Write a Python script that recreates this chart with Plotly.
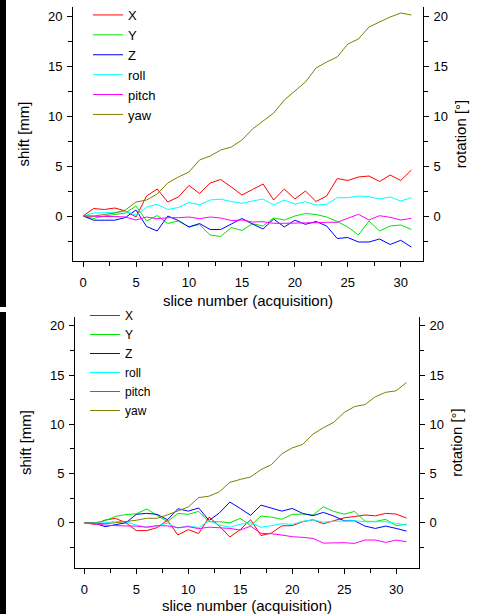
import plotly.graph_objects as go

slices = list(range(32))
tick_vals = [0, 5, 10, 15, 20, 25, 30]
series_names = ["X", "Y", "Z", "roll", "pitch", "yaw"]

top_X = [0, 0.75, 0.65, 0.8, 0.5, -0.1, 2.0, 2.7, 1.4, 1.9, 3.05, 2.25, 3.3, 3.65, 2.9, 2.1,
         2.65, 3.2, 1.6, 2.7, 1.7, 2.5, 1.45, 2.0, 3.75, 3.55, 3.9, 4.0, 3.45, 4.1, 3.55, 4.6]
top_Y = [0, -0.25, 0.0, 0.15, 0.3, 1.0, -0.5, 0.05, -0.75, -0.5, -1.1, -0.85, -1.9, -2.05, -1.15, -1.45,
         -0.77, -1.0, -0.2, -0.4, 0.0, 0.25, 0.15, -0.1, -0.55, -1.1, -1.9, -0.5, -1.5, -1.0, -0.9, -1.35]
top_Z = [0, -0.42, -0.42, -0.42, -0.15, 0.6, -1.05, -1.5, 0.0, -0.45, -1.1, -0.75, -1.35, -1.35, -0.8, -0.25,
         -0.8, -1.3, -0.3, -1.1, -0.42, -0.83, -0.55, -1.0, -2.25, -2.15, -2.6, -2.6, -2.3, -2.85, -2.43, -3.1]
top_roll = [0, 0.3, 0.33, 0.35, 0.47, 0.08, 0.88, 1.17, 0.65, 0.85, 1.35, 1.12, 1.6, 1.68, 1.45, 1.27,
            1.5, 1.7, 1.1, 1.6, 1.2, 1.43, 1.1, 1.17, 1.83, 1.83, 2.0, 1.93, 1.7, 1.9, 1.5, 1.83]
top_pitch = [0, -0.05, -0.05, -0.05, -0.1, -0.4, -0.1, -0.27, -0.17, -0.17, -0.1, -0.27, -0.1, -0.2, -0.45, -0.4,
             -0.6, -0.57, -0.73, -0.73, -0.73, -0.73, -0.67, -0.63, -0.63, -0.23, 0.17, -0.4, 0.03, -0.13, -0.4, -0.23]
top_yaw = [0, 0, 0.15, 0.3, 0.6, 1.4, 1.6, 2.2, 3.3, 3.9, 4.4, 5.6, 6.0, 6.6, 6.9, 7.6,
           8.7, 9.5, 10.3, 11.6, 12.5, 13.4, 14.8, 15.4, 15.9, 17.2, 17.7, 18.9, 19.4, 19.9, 20.3, 20.1]

bot_X = [0, -0.17, 0.27, 0.44, 0.0, -0.8, -0.8, -0.5, 0.25, -1.25, -0.7, -1.1, 0.57, -0.35, -1.45, -0.7,
         0.3, -1.3, -1.05, -0.32, -0.3, 0.1, 0.3, -0.1, 0.2, 0.5, 0.63, 0.78, 0.7, 0.95, 0.88, 0.47]
bot_Y = [0, 0, 0.2, 0.65, 0.83, 0.9, 1.39, 0.78, 0.1, 0.95, 0.85, 1.15, 0.1, 0.1, 0.0, 0.44,
         -0.3, 0.68, 0.57, 0.35, 0.85, 0.88, 0.78, 1.62, 1.15, 0.87, 1.15, 0.15, 0.13, 0.34, -0.3, -0.15]
bot_Z = [0, -0.05, -0.4, -0.2, 0.0, 0.85, 0.95, 0.85, 0.3, 1.42, 1.18, 1.5, 0.23, 1.0, 2.1, 1.45,
         0.75, 1.79, 1.52, 1.18, 1.45, 0.95, 0.71, 1.05, 0.68, 0.2, 0.2, -0.34, -0.58, -0.34, -0.58, -0.85]
bot_roll = [0, -0.05, 0.0, 0.12, 0.1, -0.24, -0.48, -0.32, -0.05, -0.55, -0.32, -0.5, 0.2, -0.24, -0.45, -0.15,
            0.0, -0.47, -0.3, -0.1, -0.17, 0.13, 0.3, 0.05, 0.15, 0.18, 0.2, 0.1, 0.1, 0.1, -0.07, -0.24]
bot_pitch = [0, -0.13, -0.24, -0.3, -0.3, -0.35, -0.45, -0.3, -0.32, -0.5, -0.4, -0.6, -0.45, -0.5, -0.58, -0.75,
             -0.35, -1.08, -1.12, -1.25, -1.42, -1.49, -1.59, -2.07, -2.03, -2.03, -2.1, -1.76, -1.76, -2.0, -1.76, -1.93]
bot_yaw = [0, -0.05, -0.1, 0.0, 0.1, 0.25, 0.45, 0.45, 0.8, 1.2, 1.6, 2.55, 2.7, 3.15, 4.1, 4.4,
           4.65, 5.4, 5.9, 7.0, 7.6, 7.95, 9.0, 9.65, 10.2, 11.2, 11.8, 12.0, 12.8, 13.25, 13.4, 14.25]

colors = ["#FF0000", "#00E600", "#0000FF", "#00FFFF", "#FF00FF", "#808000"]
FONT = "Liberation Sans, Arial, sans-serif"

W, H = 481, 614
fig = go.Figure()

top_series = [top_X, top_Y, top_Z, top_roll, top_pitch, top_yaw]
bot_series = [bot_X, bot_Y, bot_Z, bot_roll, bot_pitch, bot_yaw]

for k, (name, vals) in enumerate(zip(series_names, top_series)):
    fig.add_trace(go.Scatter(x=slices, y=vals, name=name, mode="lines",
                             line=dict(color=colors[k], width=1),
                             xaxis="x", yaxis="y" if k < 3 else "y2", legend="legend"))
for k, (name, vals) in enumerate(zip(series_names, bot_series)):
    fig.add_trace(go.Scatter(x=slices, y=vals, name=name, mode="lines",
                             line=dict(color=colors[k], width=1),
                             xaxis="x2", yaxis="y3" if k < 3 else "y4", legend="legend2"))

def px_x(p):
    return p / W

def px_y(p):
    return 1 - p / H

minor_ticks = dict(ticks="outside", ticklen=4, tickcolor="black", dtick=2.5, tick0=0, showgrid=False)
axis_common = dict(showgrid=False, zeroline=False, showline=True, linecolor="black", linewidth=1,
                   ticks="outside", ticklen=5, tickcolor="black", tickwidth=1, automargin=False,
                   tickfont=dict(family=FONT, size=13, color="black"), minor=minor_ticks)

xcommon = dict(axis_common, tickvals=tick_vals, ticklabelstandoff=4)
ycommon = dict(axis_common, tickvals=[0, 5, 10, 15, 20], ticklabelstandoff=2)

title_font = dict(family=FONT, size=15, color="black")

fig.update_layout(
    template="none",
    width=W, height=H, paper_bgcolor="white", plot_bgcolor="white",
    margin=dict(l=0, r=0, t=0, b=0, pad=0),
    showlegend=True,
    xaxis=dict(xcommon, domain=[px_x(73), px_x(423)], range=[-0.95, 32.1], anchor="y",
               title=dict(text="slice number (acquisition)", font=title_font, standoff=6)),
    yaxis=dict(ycommon, domain=[px_y(261), px_y(7)], range=[-4.5, 20.9], anchor="x",
               title=dict(text="shift [mm]", font=title_font, standoff=14)),
    yaxis2=dict(ycommon, domain=[px_y(261), px_y(7)], range=[-4.5, 20.9], anchor="x",
                overlaying="y", side="right",
                title=dict(text="rotation [°]", font=title_font, standoff=8)),
    xaxis2=dict(xcommon, domain=[px_x(75), px_x(419)], range=[-0.9, 32.2], anchor="y3",
                title=dict(text="slice number (acquisition)", font=title_font, standoff=5)),
    yaxis3=dict(ycommon, domain=[px_y(568), px_y(317)], range=[-4.6, 20.9], anchor="x2",
                title=dict(text="shift [mm]", font=title_font, standoff=14)),
    yaxis4=dict(ycommon, domain=[px_y(568), px_y(317)], range=[-4.6, 20.9], anchor="x2",
                overlaying="y3", side="right",
                title=dict(text="rotation [°]", font=title_font, standoff=8)),
    legend=dict(x=px_x(88), y=1, xanchor="left", yanchor="top", bgcolor="rgba(0,0,0,0)",
                font=dict(family=FONT, size=13, color="black"), itemwidth=30, tracegroupgap=0),
    legend2=dict(x=px_x(85), y=px_y(301), xanchor="left", yanchor="top", bgcolor="rgba(0,0,0,0)",
                 font=dict(family=FONT, size=12, color="black"), itemwidth=30, tracegroupgap=0),
    shapes=[
        dict(type="rect", xref="paper", yref="paper", x0=0, x1=px_x(6), y0=px_y(307), y1=1,
             fillcolor="black", line=dict(width=0), layer="above"),
        dict(type="rect", xref="paper", yref="paper", x0=0, x1=px_x(6), y0=0, y1=px_y(312),
             fillcolor="black", line=dict(width=0), layer="above"),
    ],
)

fig.write_html("out.html", config={"displayModeBar": False},
               post_script="document.body.style.margin='0';document.body.style.padding='0';")
